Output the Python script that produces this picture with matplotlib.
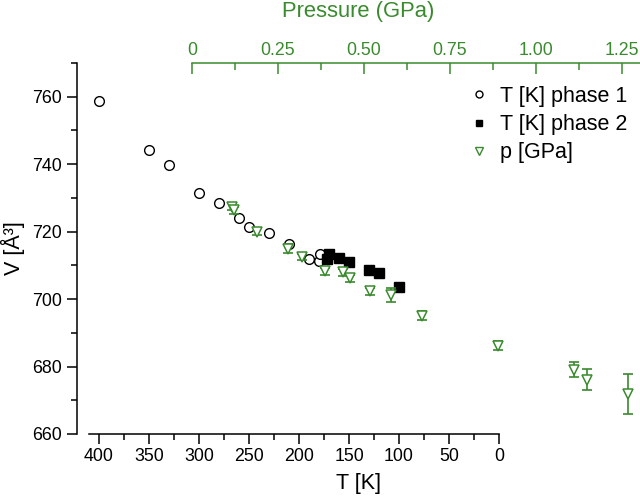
import matplotlib
matplotlib.use('Agg')
import matplotlib.pyplot as plt
from matplotlib.lines import Line2D
from matplotlib.ticker import FixedLocator

plt.rcParams['font.family'] = ['Liberation Sans', 'DejaVu Sans']

GREEN = '#3a8a2e'

# temperature series, phase 1 (open circles)
t_phase1 = [400, 350, 330, 300, 280, 260, 250, 230, 210, 190, 180, 179]
v_phase1 = [758.6, 744.2, 739.8, 731.4, 728.4, 724.0, 721.5, 719.6, 716.4, 711.8, 711.2, 713.5]

# temperature series, phase 2 (filled squares)
t_phase2 = [172, 170, 160, 150, 130, 120, 100]
v_phase2 = [711.8, 713.5, 712.1, 710.9, 708.6, 707.6, 703.5]

# pressure series (top axis)
p_gpa = [0.115, 0.122, 0.188, 0.278, 0.319, 0.388, 0.438, 0.459, 0.517, 0.578,
         0.669, 0.890, 1.110, 1.149, 1.268]
v_p = [727.4, 726.3, 720.0, 714.9, 712.5, 708.2, 707.9, 706.2, 702.3, 701.2,
       695.1, 686.2, 679.1, 676.1, 671.9]
v_p_err = [1.0, 1.0, 1.0, 1.3, 1.0, 1.0, 1.0, 1.0, 1.0, 2.1, 1.3, 1.3, 2.2, 3.1, 6.0]

t_ticks = [400, 350, 300, 250, 200, 150, 100, 50, 0]
p_ticks = [0, 0.25, 0.5, 0.75, 1.0, 1.25]
p_labels = ['0', '0.25', '0.50', '0.75', '1.00', '1.25']
v_ticks = [660, 680, 700, 720, 740, 760]

fig = plt.figure(figsize=(6.4, 5.01), dpi=100)
ax = fig.add_axes([77/640, 1 - 434/501, 563/640, 371/501])

ax.plot(t_phase1, v_phase1, 'o', ms=7, mfc='white', mec='black', mew=1.0,
        ls='none', label='T [K] phase 1', zorder=3)
ax.plot(t_phase2, v_phase2, 's', ms=6.5, mfc='black', mec='black', mew=1.0,
        ls='none', label='T [K] phase 2', zorder=4)

ax.set_xlim(422, -141)
ax.set_ylim(660, 770)

for s in ['top', 'right']:
    ax.spines[s].set_visible(False)
ax.spines['left'].set_bounds(660, 770)
ax.spines['bottom'].set_bounds(410, 0)
ax.spines['left'].set_linewidth(1.1)
ax.spines['bottom'].set_linewidth(1.1)

ax.xaxis.set_major_locator(FixedLocator(t_ticks))
ax.xaxis.set_minor_locator(FixedLocator([t + 25 for t in t_ticks[1:]]))
ax.yaxis.set_major_locator(FixedLocator(v_ticks))
ax.yaxis.set_minor_locator(FixedLocator([v + 10 for v in v_ticks]))
ax.tick_params(which='major', direction='out', length=7, width=1.1, labelsize=12.8, pad=3)
ax.tick_params(which='minor', direction='out', length=4, width=1.1)
ax.tick_params(axis='y', which='major', pad=4)

ax.set_xlabel('T [K]', fontsize=15.5, labelpad=6)
ax.set_ylabel('V [Å³]', fontsize=15.5, labelpad=5)

# pressure axis on top
ax2 = ax.twiny()
ax2.set_xlim(-0.3343, 1.3023)
ax2.errorbar(p_gpa, v_p, yerr=v_p_err, fmt='none', ecolor=GREEN, elinewidth=1.2,
             capsize=3.3, capthick=1.2, zorder=2)
ax2.plot(p_gpa, v_p, 'v', ms=7, mfc='white', mec=GREEN, mew=1.1, ls='none',
         label='p [GPa]', zorder=3)

for s in ['bottom', 'left', 'right']:
    ax2.spines[s].set_visible(False)
ax2.spines['top'].set_color(GREEN)
ax2.spines['top'].set_linewidth(1.1)
ax2.spines['top'].set_bounds(0, 1.3023)
ax2.xaxis.set_major_locator(FixedLocator(p_ticks))
ax2.xaxis.set_minor_locator(FixedLocator([p + 0.125 for p in p_ticks[:-1]]))
ax2.set_xticklabels(p_labels)
ax2.tick_params(axis='x', which='major', direction='in', length=8, width=1.1,
                colors=GREEN, labelsize=12.8, pad=3)
ax2.tick_params(axis='x', which='minor', direction='in', length=5, width=1.1,
                colors=GREEN)
ax2.set_xlabel('Pressure (GPa)', fontsize=15.8, color=GREEN, labelpad=18)

handles = [
    Line2D([], [], marker='o', ls='none', ms=5, mfc='white', mec='black', mew=1.0),
    Line2D([], [], marker='s', ls='none', ms=5, mfc='black', mec='black'),
    Line2D([], [], marker='v', ls='none', ms=5.5, mfc='white', mec=GREEN, mew=1.0),
]
labels = ['T [K] phase 1', 'T [K] phase 2', 'p [GPa]']
ax2.legend(handles, labels, loc='upper left', bbox_to_anchor=(469/640, 1 - 86/501),
           bbox_transform=fig.transFigure, frameon=False, fontsize=15.5,
           borderpad=0, borderaxespad=0, handlelength=0.9, handletextpad=0.55,
           labelspacing=0.33)

fig.savefig('out.png', dpi=100)
